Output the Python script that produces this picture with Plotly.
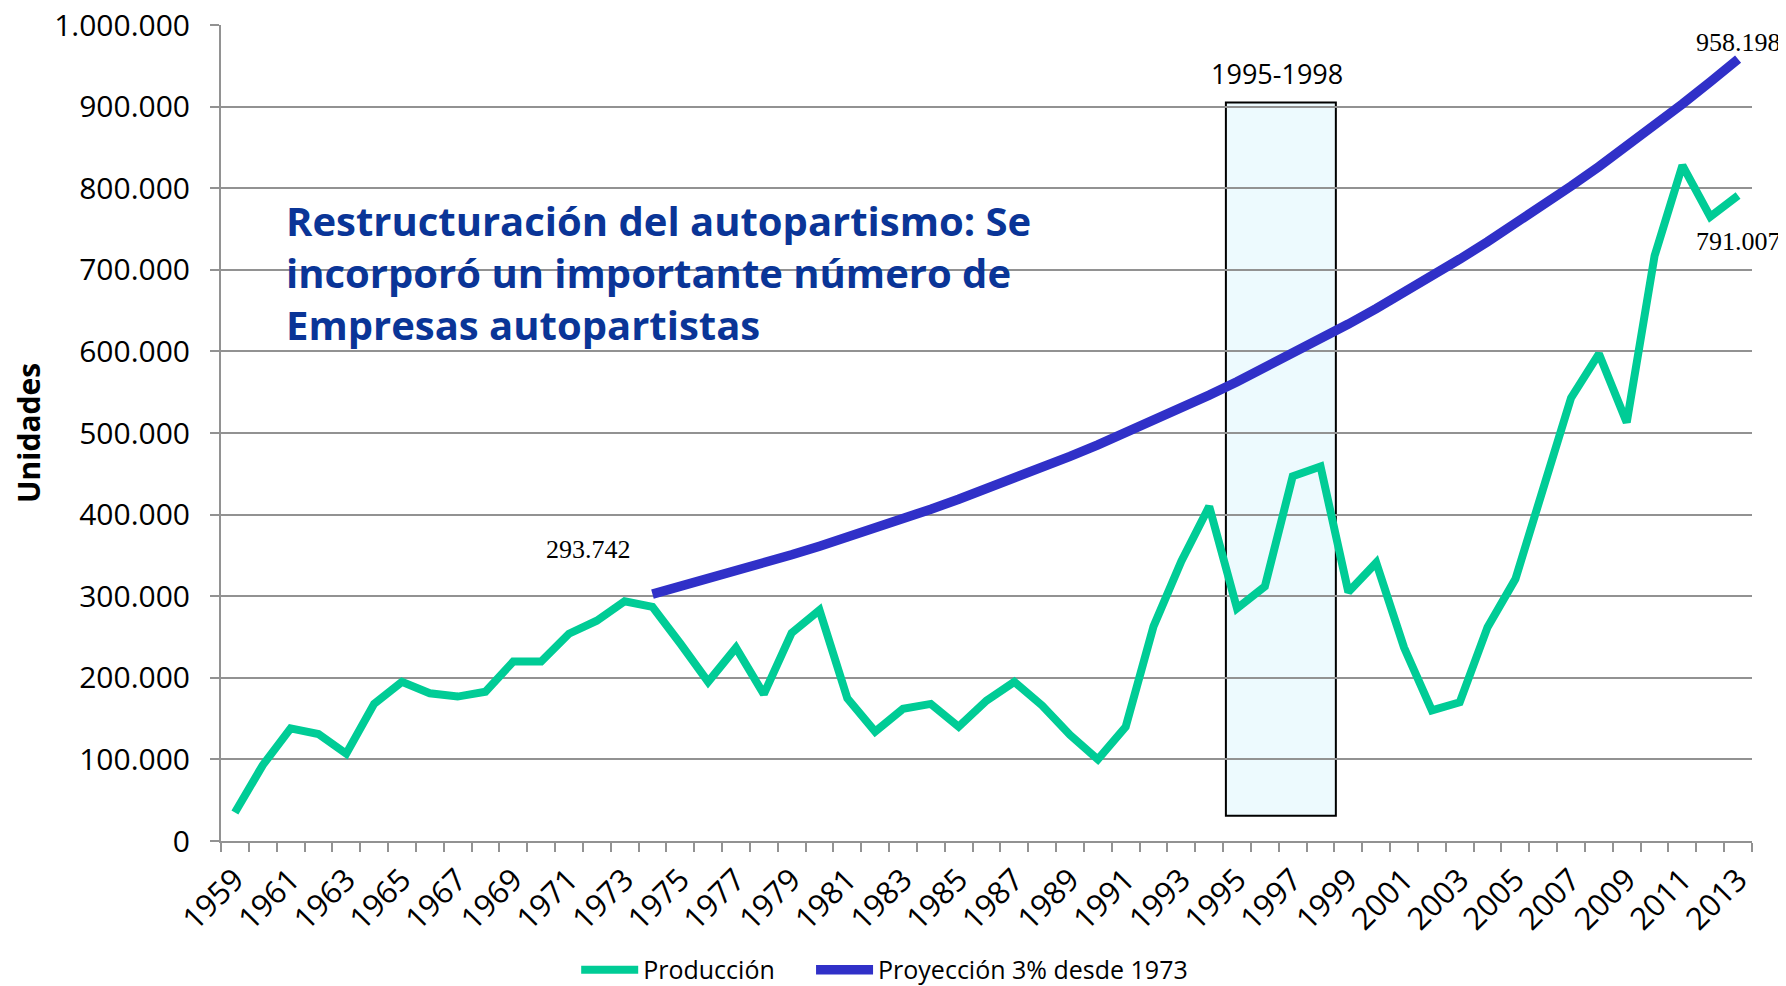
import plotly.graph_objects as go

# ---------------- data ----------------
years = list(range(1959, 2014))
produccion = [
    35000, 93000, 138000, 131000, 107000, 168000, 195000, 181000, 177000, 183000,
    220000, 220000, 254000, 270000, 293742, 287000, 242000, 195000, 237000, 180000,
    255000, 283000, 175000, 134000, 162000, 168000, 140000, 172000, 195000, 166000,
    130000, 100000, 140000, 263000, 343000, 410000, 285000, 312000, 447000, 459000,
    305000, 341000, 237000, 160000, 170000, 262000, 321000, 430000, 543000, 597000,
    513000, 717000, 828000, 765000, 791007,
]
proy_years = list(range(1974, 2014))
proyeccion = [
    302554, 311631, 320980, 330609, 340527, 350743, 361266, 372104, 383267, 394765,
    406608, 418806, 431370, 444311, 457640, 471370, 485511, 500076, 515078, 530531,
    546447, 562840, 579725, 597116, 615029, 633480, 652485, 672059, 692221, 712988,
    734377, 756409, 779101, 802474, 826548, 851345, 876885, 903192, 930287, 958198,
]
tick_years = list(range(1959, 2014, 2))
tick_labels = [str(y) for y in tick_years]
y_ticks = [0, 100000, 200000, 300000, 400000, 500000, 600000, 700000, 800000, 900000, 1000000]

series_names = ["Producción", "Proyección 3% desde 1973"]
label_pico = "293.742"
label_fin_proy = "958.198"
label_fin_prod = "791.007"
periodo = "1995-1998"
periodo_x = (1994.6, 1998.55)
periodo_y = (31000, 905000)
texto = ("Restructuración del autopartismo: Se<br>"
         "incorporó un importante número de<br>"
         "Empresas autopartistas")

GREEN = "#00CC96"
BLUE = "#3030C8"
GRID = "#929292"

fig = go.Figure()
fig.add_trace(go.Scatter(x=years, y=produccion, mode="lines", name=series_names[0],
                         line=dict(color=GREEN, width=8), legend="legend"))
fig.add_trace(go.Scatter(x=proy_years, y=proyeccion, mode="lines", name=series_names[1],
                         line=dict(color=BLUE, width=9.5), legend="legend2"))

fig.add_shape(type="rect", xref="x", yref="y",
              x0=periodo_x[0], x1=periodo_x[1], y0=periodo_y[0], y1=periodo_y[1],
              fillcolor="#EDFAFE", line=dict(color="black", width=2), layer="below")

ann_font_serif = dict(family="Liberation Serif", size=26, color="black")
fig.add_annotation(x=1971.7, y=357000, text=label_pico, showarrow=False, font=ann_font_serif)
fig.add_annotation(x=2013, y=979000, text=label_fin_proy, showarrow=False, font=ann_font_serif)
fig.add_annotation(x=2013, y=735000, text=label_fin_prod, showarrow=False, font=ann_font_serif)
fig.add_annotation(x=1996.43, y=940000, text=periodo, showarrow=False,
                   font=dict(family="Open Sans", size=27, color="black"))
fig.add_annotation(xref="paper", yref="paper", x=0.041, y=0.697, xanchor="left", yanchor="middle",
                   text=texto, showarrow=False, align="left",
                   font=dict(family="Open Sans", size=40, color="#0A3597", weight="bold"))
fig.add_annotation(xref="paper", yref="paper", x=-0.126, y=0.5, xanchor="center", yanchor="middle",
                   text="Unidades", textangle=-90, showarrow=False,
                   font=dict(family="Open Sans", size=30, color="black", weight="bold"))

legend_font = dict(family="Open Sans", size=25, color="black")
fig.update_layout(
    width=1778, height=978,
    margin=dict(l=213, r=34, t=17, b=145, autoexpand=False),
    plot_bgcolor="white", paper_bgcolor="white",
    separators=",.",
    showlegend=True,
    legend=dict(orientation="h", x=0.232, xanchor="left", y=-0.158, yanchor="middle",
                itemwidth=57, font=legend_font, bgcolor="rgba(0,0,0,0)"),
    legend2=dict(orientation="h", x=0.3854, xanchor="left", y=-0.158, yanchor="middle",
                 itemwidth=57, font=legend_font, bgcolor="rgba(0,0,0,0)"),
    font=dict(family="Open Sans", color="black"),
)
fig.update_xaxes(range=[1958.5, 2013.5], tickmode="array", tickvals=tick_years, ticktext=tick_labels,
                 tickangle=-45, tickfont=dict(family="Open Sans", size=31, color="black"),
                 showgrid=False, showline=True, linecolor=GRID, linewidth=2,
                 ticks="outside", ticklen=6, tickcolor="rgba(0,0,0,0)",
                 minor=dict(tick0=1958.5, dtick=1, ticks="outside", ticklen=9, tickcolor=GRID,
                            tickwidth=1.5, showgrid=False),
                 zeroline=False, automargin=False)
fig.update_yaxes(range=[0, 1000000], tickmode="array", tickvals=y_ticks, tickformat=",d",
                 tickfont=dict(family="Open Sans", size=30, color="black"),
                 showgrid=True, gridcolor=GRID, gridwidth=2,
                 showline=True, linecolor=GRID, linewidth=2,
                 ticks="outside", ticklen=9, tickcolor=GRID, tickwidth=1.5,
                 ticklabelstandoff=14, ticklabeloverflow="allow",
                 zeroline=False, automargin=False)

fig.write_html("out.html")
